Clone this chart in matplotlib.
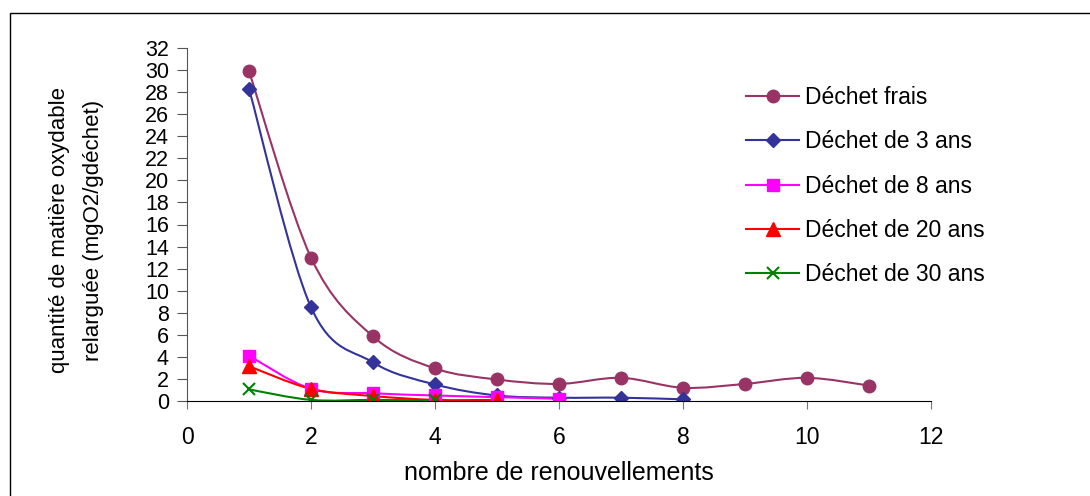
import matplotlib.pyplot as plt
from matplotlib.path import Path
from matplotlib.patches import PathPatch, Rectangle
from matplotlib.lines import Line2D

plt.rcParams['font.family'] = ['Liberation Sans', 'DejaVu Sans']

# data
renouv = [1, 2, 3, 4, 5, 6, 7, 8, 9, 10, 11]
frais = [29.9, 13.0, 5.85, 2.95, 1.95, 1.55, 2.1, 1.2, 1.55, 2.1, 1.4]
ans3 = [28.3, 8.5, 3.5, 1.5, 0.5, 0.3, 0.3, 0.15]
ans8 = [4.1, 1.1, 0.7, 0.5, 0.35, 0.2]
ans20 = [3.15, 1.1, 0.45, 0.1, 0.1]
ans30 = [1.05, 0.1, 0.1, 0.05]

series = [
    ('Déchet frais', frais, '#993366', 'o', 9),
    ('Déchet de 3 ans', ans3, '#333399', 'D', 7),
    ('Déchet de 8 ans', ans8, '#FF00FF', 's', 8),
    ('Déchet de 20 ans', ans20, '#FF0000', '^', 9.5),
    ('Déchet de 30 ans', ans30, '#008000', 'x', 8),
]


def smooth_path(xs, ys):
    # Excel-like smoothed line: Catmull-Rom segments drawn as cubic Beziers
    pts = list(zip(xs, ys))
    verts = [pts[0]]
    codes = [Path.MOVETO]
    n = len(pts)
    for i in range(n - 1):
        p0 = pts[i - 1] if i > 0 else pts[i]
        p1 = pts[i]
        p2 = pts[i + 1]
        p3 = pts[i + 2] if i + 2 < n else pts[i + 1]
        c1 = (p1[0] + (p2[0] - p0[0]) / 6, p1[1] + (p2[1] - p0[1]) / 6)
        c2 = (p2[0] - (p3[0] - p1[0]) / 6, p2[1] - (p3[1] - p1[1]) / 6)
        verts += [c1, c2, p2]
        codes += [Path.CURVE4] * 3
    return Path(verts, codes)


fig = plt.figure(figsize=(10.9, 4.96), dpi=100)
ax = fig.add_axes([187 / 1090, 95 / 496, 744 / 1090, 353 / 496])

handles = []
for label, vals, color, mk, ms in series:
    xs = renouv[:len(vals)]
    ax.add_patch(PathPatch(smooth_path(xs, vals), fill=False, edgecolor=color, lw=1.5))
    mew = 1.5 if mk == 'x' else 1
    ax.plot(xs, vals, linestyle='none', marker=mk, markersize=ms, color=color, mew=mew)
    handles.append(Line2D([], [], color=color, lw=1.5, marker=mk, markersize=ms, mew=mew, label=label))

ax.set_xlim(0, 12)
ax.set_ylim(0, 32)
ax.set_xticks(range(0, 13, 2))
ax.set_yticks(range(0, 33, 2))
ax.spines['top'].set_visible(False)
ax.spines['right'].set_visible(False)
ax.spines['left'].set_color('#555555')
ax.tick_params(axis='y', direction='out', length=7, color='#555555', labelsize=15.5, pad=6)
ax.tick_params(axis='x', direction='out', length=6, color='#777777', labelsize=16.5, pad=12)
ax.set_xlabel('nombre de renouvellements', fontsize=18)
ax.xaxis.set_label_coords((559 - 187) / 744, -(461 - 401) / 353)
ax.set_ylabel('quantité de matière oxydable\nrelarguée (mgO2/gdéchet)', fontsize=16,
              linespacing=1.8)
ax.yaxis.set_label_coords((104 - 187) / 744, (401 - 230) / 353)

leg = ax.legend(handles=handles, loc='upper left', bbox_to_anchor=(737 / 1090, 1 - 77 / 496),
                bbox_transform=fig.transFigure, frameon=False, fontsize=16.5,
                handlelength=2.3, handletextpad=0.25, labelspacing=0.93, borderaxespad=0)

fig.add_artist(Rectangle((10 / 1090, -0.1), 1.1, 1.1 - 13 / 496, fill=False, lw=1,
                         edgecolor='black', transform=fig.transFigure))

plt.savefig('out.png', dpi=100)
